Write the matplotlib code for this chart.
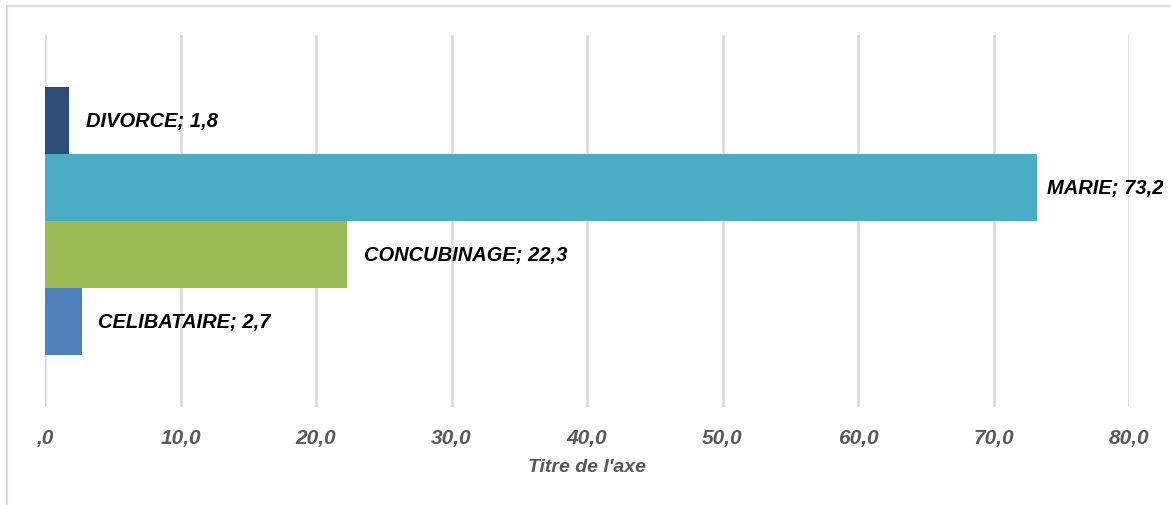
import matplotlib
matplotlib.use('Agg')
import matplotlib.pyplot as plt
from matplotlib.patches import Rectangle

plt.rcParams['font.family'] = ['Liberation Sans', 'DejaVu Sans']

# données (de haut en bas)
categories = ['DIVORCE', 'MARIE', 'CONCUBINAGE', 'CELIBATAIRE']
values = [1.8, 73.2, 22.3, 2.7]
colors = ['#2C4D75', '#4BACC6', '#9BBB59', '#4F81BD']
xticks = [0, 10, 20, 30, 40, 50, 60, 70, 80]
xticklabels = [',0', '10,0', '20,0', '30,0', '40,0', '50,0', '60,0', '70,0', '80,0']

W, H = 1171, 506
fig = plt.figure(figsize=(W / 100, H / 100), dpi=100)

# cadre du graphique
fig.patches.append(Rectangle((7 / W, -0.1), 1.2, (H - 7) / H + 0.1,
                             transform=fig.transFigure, fill=False,
                             edgecolor='#D9D9D9', linewidth=1.5))

ax = fig.add_axes([45 / W, (H - 408) / H, (1129 - 45) / W, (408 - 36) / H])

h = 67 / 372
n = len(values)
for j, (cat, v, c) in enumerate(zip(categories, values, colors)):
    y = (n / 2 - 0.5 - j) * h
    ax.barh(y, v, height=h, color=c, zorder=2)
    # l'étiquette la plus longue est rapprochée de sa barre (comme dans Excel)
    dx = 7 if v > 70 else 12
    ax.annotate(cat + '; ' + ('%.1f' % v).replace('.', ','),
                xy=(v, y), xytext=(dx, 0), textcoords='offset points',
                ha='left', va='center', fontsize=14.5,
                fontweight='bold', fontstyle='italic', color='black')

ax.set_xlim(0, 80)
ax.set_ylim(-0.5, 0.5)
ax.set_xticks(xticks)
ax.set_xticklabels(xticklabels, fontsize=15, fontweight='bold',
                   fontstyle='italic', color='#595959')
ax.tick_params(axis='x', length=0, pad=15)
ax.set_yticks([])
ax.grid(True, axis='x', color='#D9D9D9', linewidth=1.8, zorder=0)
ax.set_axisbelow(True)
for s in ax.spines.values():
    s.set_visible(False)

ax.set_xlabel('Titre de l\'axe', fontsize=14, fontweight='bold',
              fontstyle='italic', color='#595959', labelpad=8)

fig.savefig('out.png', dpi=100)
